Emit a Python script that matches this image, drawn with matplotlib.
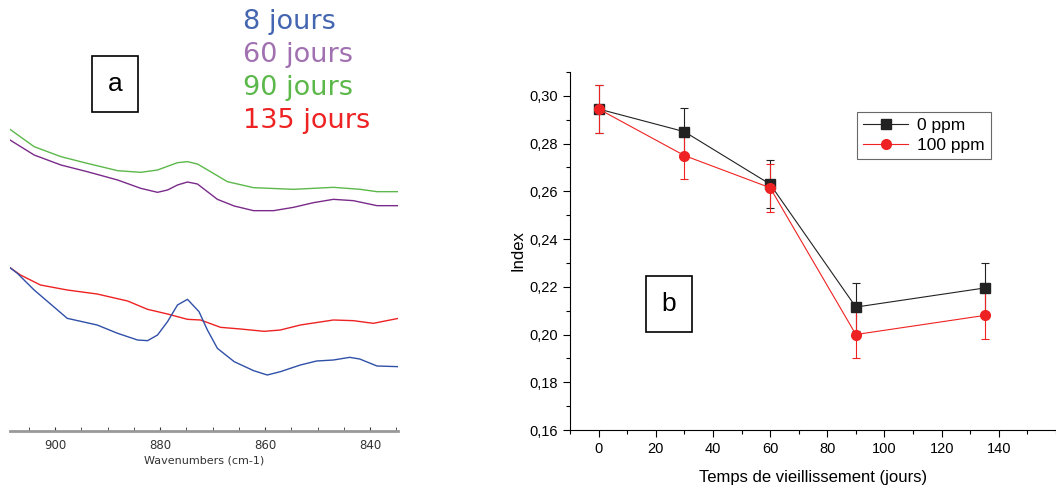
import matplotlib
matplotlib.use("Agg")
import matplotlib.pyplot as plt
from matplotlib.ticker import MultipleLocator, FuncFormatter

# --- panel a: FTIR spectra (arbitrary absorbance) ---
wn_90 = [908.6, 904.0, 898.9, 893.9, 888.1, 883.7, 880.5, 876.7, 874.8, 872.9,
         870.4, 867.2, 862.2, 854.6, 847.0, 841.9, 838.7, 834.6]
abs_90 = [0.905, 0.853, 0.823, 0.803, 0.781, 0.776, 0.783, 0.805, 0.808, 0.801,
          0.778, 0.748, 0.730, 0.725, 0.731, 0.725, 0.718, 0.718]

wn_60 = [908.6, 904.0, 898.9, 893.9, 888.1, 883.7, 880.5, 878.6, 876.7, 874.8,
         872.9, 869.1, 865.9, 862.2, 858.4, 854.6, 850.8, 847.0, 843.2, 838.7, 834.6]
abs_60 = [0.873, 0.828, 0.798, 0.778, 0.753, 0.728, 0.716, 0.723, 0.738, 0.747,
          0.741, 0.695, 0.675, 0.661, 0.661, 0.671, 0.685, 0.695, 0.691, 0.676, 0.676]

wn_135 = [908.6, 906.6, 902.8, 897.7, 892.0, 886.2, 882.4, 878.6, 874.8, 872.3,
          868.5, 864.7, 860.2, 857.1, 853.3, 847.0, 843.2, 839.4, 834.6]
abs_135 = [0.490, 0.468, 0.438, 0.423, 0.411, 0.390, 0.365, 0.351, 0.335, 0.333,
           0.311, 0.306, 0.299, 0.303, 0.318, 0.333, 0.331, 0.323, 0.338]

wn_8 = [908.6, 907.2, 904.0, 897.7, 892.0, 888.1, 884.3, 882.4, 880.5, 878.6,
        876.7, 874.8, 872.6, 871.0, 869.1, 865.9, 862.2, 859.6, 857.1, 853.3,
        850.2, 847.0, 843.9, 842.0, 838.7, 834.6]
abs_8 = [0.490, 0.473, 0.423, 0.338, 0.318, 0.293, 0.273, 0.271, 0.288, 0.328,
         0.378, 0.395, 0.358, 0.303, 0.248, 0.208, 0.181, 0.168, 0.178, 0.198,
         0.210, 0.213, 0.221, 0.216, 0.195, 0.193]

spectra_labels = ["8 jours", "60 jours", "90 jours", "135 jours"]
spectra_text_colors = ["#4466b0", "#a070b0", "#5cb84a", "#ee2222"]

# --- panel b: index vs ageing time ---
days = [0, 30, 60, 90, 135]
index_0ppm = [0.2945, 0.285, 0.263, 0.2115, 0.2195]
err_0ppm = [0.010, 0.010, 0.010, 0.010, 0.0105]
index_100ppm = [0.2945, 0.275, 0.2615, 0.200, 0.208]
err_100ppm = [0.010, 0.010, 0.010, 0.010, 0.010]

W, H = 1056, 490
fig = plt.figure(figsize=(W / 100, H / 100), dpi=100)

# panel a
ax1 = fig.add_axes([10 / W, 1 - 431 / H, 388 / W, 431 / H])
ax1.plot(wn_90, abs_90, color="#5cb84a", lw=1)
ax1.plot(wn_60, abs_60, color="#7a2a8a", lw=1)
ax1.plot(wn_135, abs_135, color="#ee2222", lw=1)
ax1.plot(wn_8, abs_8, color="#3050a8", lw=1)
ax1.set_xlim(908.6, 834.7)
ax1.set_ylim(0, 1.293)
for s in ["top", "left", "right"]:
    ax1.spines[s].set_visible(False)
ax1.spines["bottom"].set_color("#999999")
ax1.spines["bottom"].set_linewidth(2)
ax1.set_yticks([])
ax1.xaxis.set_major_locator(MultipleLocator(20))
ax1.xaxis.set_minor_locator(MultipleLocator(5))
ax1.tick_params(axis="x", which="both", direction="in", length=3, color="#333333",
                labelsize=8.5, labelcolor="#333333", pad=6)
ax1.set_xlabel("Wavenumbers (cm-1)", fontsize=8, color="#333333", labelpad=2)
ax1.patch.set_alpha(0)

for i, (lab, col) in enumerate(zip(spectra_labels, spectra_text_colors)):
    fig.text(243 / W, 1 - (22 + 33 * i) / H, lab, color=col, fontsize=19.5,
             ha="left", va="center", family="DejaVu Sans")

fig.text(115 / W, 1 - 84 / H, "a", fontsize=19, ha="center", va="center",
         family="Liberation Sans",
         bbox=dict(boxstyle="square,pad=0.6", fc="white", ec="black", lw=1.2))

# panel b
plt.rcParams["font.family"] = "Liberation Sans"
ax2 = fig.add_axes([570 / W, 1 - 430 / H, 486 / W, 358 / H])
ax2.errorbar(days, index_0ppm, yerr=err_0ppm, color="#222222", marker="s",
             ms=6.5, lw=0.8, capsize=3, elinewidth=0.8, capthick=0.8,
             label="0 ppm")
ax2.errorbar(days, index_100ppm, yerr=err_100ppm, color="#ee2222", marker="o",
             ms=7, lw=0.8, capsize=3, elinewidth=0.8, capthick=0.8,
             label="100 ppm")
ax2.set_xlim(-10, 160)
ax2.set_ylim(0.16, 0.31)
for s in ["top", "right"]:
    ax2.spines[s].set_visible(False)
ax2.xaxis.set_major_locator(MultipleLocator(20))
ax2.xaxis.set_minor_locator(MultipleLocator(10))
ax2.yaxis.set_major_locator(MultipleLocator(0.02))
ax2.yaxis.set_minor_locator(MultipleLocator(0.01))
ax2.set_xticks([0, 20, 40, 60, 80, 100, 120, 140])
ax2.yaxis.set_major_formatter(FuncFormatter(lambda v, p: f"{v:.2f}".replace(".", ",")))
ax2.tick_params(which="major", direction="out", length=5, labelsize=10.5, width=0.8)
ax2.tick_params(which="minor", direction="out", length=3, width=0.8)
ax2.set_xlabel("Temps de vieillissement (jours)", fontsize=12, labelpad=10)
ax2.set_ylabel("Index", fontsize=12, labelpad=3)

handles, labels = ax2.get_legend_handles_labels()
handles = [h[0] for h in handles]
leg = ax2.legend(handles, labels, loc="upper left",
                 bbox_to_anchor=(857 / W, 1 - 112 / H),
                 bbox_transform=fig.transFigure, fontsize=12.5, frameon=True,
                 fancybox=False, edgecolor="#444444", handlelength=2.6,
                 borderpad=0.35, labelspacing=0.25, handletextpad=0.5,
                 borderaxespad=0)
leg.get_frame().set_linewidth(0.8)

fig.text(669 / W, 1 - 304 / H, "b", fontsize=19, ha="center", va="center",
         family="Liberation Sans",
         bbox=dict(boxstyle="square,pad=0.6", fc="white", ec="black", lw=1.2))

fig.savefig("out.png", dpi=100)
